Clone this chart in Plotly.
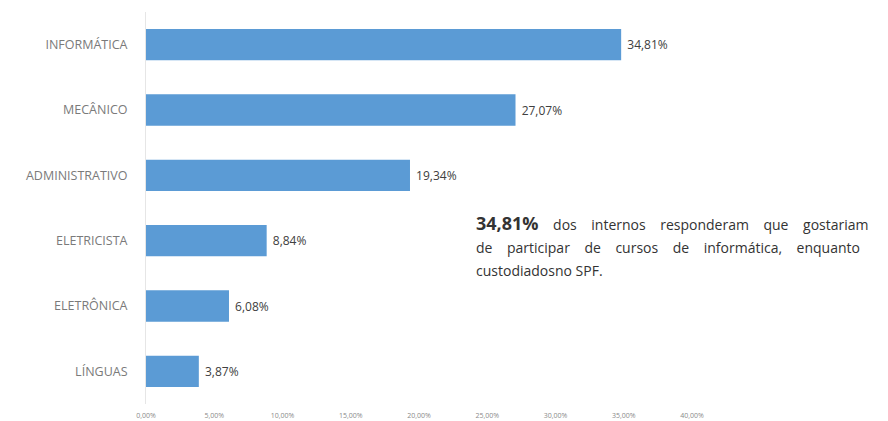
import plotly.graph_objects as go

categories = ["INFORMÁTICA", "MECÂNICO", "ADMINISTRATIVO", "ELETRICISTA", "ELETRÔNICA", "LÍNGUAS"]
values = [34.81, 27.07, 19.34, 8.84, 6.08, 3.87]
value_labels = ["34,81%", "27,07%", "19,34%", "8,84%", "6,08%", "3,87%"]
tick_values = [0, 5, 10, 15, 20, 25, 30, 35, 40]
tick_labels = ["0,00%", "5,00%", "10,00%", "15,00%", "20,00%", "25,00%", "30,00%", "35,00%", "40,00%"]
note_lines = [
    ["<b><span style='font-size:18px'>34,81%</span></b>", "dos", "internos", "responderam", "que", "gostariam"],
    ["de", "participar", "de", "cursos", "de", "informática,", "enquanto"],
    ["custodiadosno", "SPF."],
]
justify = [True, True, False]

W, H = 880, 413
L, R, T, B = 138, 196, 4, 17
PW, PH = W - L - R, H - T - B
OFF = 8  # default page body margin


def px(xpage):
    return (xpage - OFF - L) / PW


def py(ypage):
    return (H - (ypage - OFF) - B) / PH


fig = go.Figure(go.Bar(
    y=categories, x=values, orientation="h",
    marker=dict(color="#5B9BD5", line=dict(width=0)),
    text=value_labels, texttemplate="\u00a0%{text}",
    textposition="outside", cliponaxis=False,
    textfont=dict(family="Open Sans", size=12, color="#404040"),
))

annotations = []
for words, just, yc in zip(note_lines, justify, [223, 247, 270]):
    sep = " " + "&nbsp;" * 3 if just else " "
    annotations.append(dict(
        x=px(474), y=py(yc), xref="paper", yref="paper", xanchor="left", yanchor="middle",
        showarrow=False, align="left", text=sep.join(words),
        font=dict(family="Open Sans", size=14, color="#333333"),
    ))

fig.update_layout(
    width=W, height=H,
    margin=dict(l=L, r=R, t=T, b=B),
    paper_bgcolor="white", plot_bgcolor="white",
    showlegend=False, bargap=0.52,
    font=dict(family="Open Sans"),
    xaxis=dict(range=[0, 40], tickvals=tick_values, ticktext=tick_labels,
               showgrid=False, zeroline=False, showline=False, automargin=False,
               tickfont=dict(size=7, color="#8a8a8a"), ticklabelstandoff=6),
    yaxis=dict(autorange="reversed", showgrid=False, zeroline=False,
               showline=True, linecolor="#e6e6e6", linewidth=1, automargin=False,
               tickfont=dict(size=12.5, color="#7a7a7a"), ticklabelstandoff=15),
    annotations=annotations,
)

fig.write_html("out.html")
